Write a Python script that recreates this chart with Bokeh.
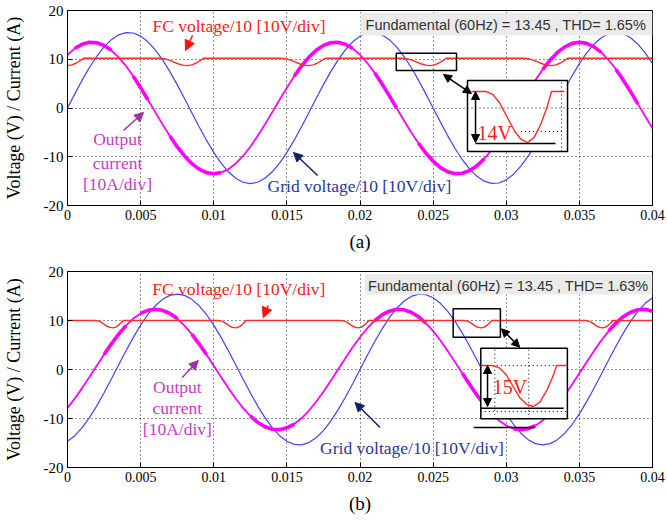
import numpy as np
from bokeh.plotting import figure
from bokeh.models import FixedTicker, Arrow, NormalHead, Label, BoxAnnotation
from bokeh.layouts import column
from bokeh.embed import file_html
from bokeh.resources import INLINE

# ---------------- data ----------------
t_grid = [round(0.0005 * i, 4) for i in range(81)]

grid_a = [0, 2.90, 5.71, 8.31, 10.61, 12.54, 14.02, 15.01, 15.47, 15.38,
          14.74, 13.58, 11.94, 9.88, 7.47, 4.79, 1.94, -0.97, -3.85, -6.60,
          -9.11, -11.30, -13.09, -14.41, -15.23, -15.50, -15.23, -14.41, -13.09, -11.30,
          -9.11, -6.60, -3.85, -0.97, 1.94, 4.79, 7.47, 9.88, 11.94, 13.58,
          14.74, 15.38, 15.47, 15.01, 14.02, 12.54, 10.61, 8.31, 5.71, 2.90,
          0, -2.90, -5.71, -8.31, -10.61, -12.54, -14.02, -15.01, -15.47, -15.38,
          -14.74, -13.58, -11.94, -9.88, -7.47, -4.79, -1.94, 0.97, 3.85, 6.60,
          9.11, 11.30, 13.09, 14.41, 15.23, 15.50, 15.23, 14.41, 13.09, 11.30,
          9.11]

current_a = [10.92, 12.22, 13.08, 13.47, 13.39, 12.84, 11.83, 10.40, 8.61, 6.50,
             4.17, 1.69, -0.85, -3.36, -5.75, -7.94, -9.84, -11.40, -12.55, -13.26,
             -13.50, -13.26, -12.55, -11.40, -9.84, -7.94, -5.75, -3.36, -0.85, 1.69,
             4.17, 6.50, 8.61, 10.40, 11.83, 12.84, 13.39, 13.47, 13.08, 12.22,
             10.92, 9.24, 7.23, 4.97, 2.53, 0, -2.53, -4.97, -7.23, -9.24,
             -10.92, -12.22, -13.08, -13.47, -13.39, -12.84, -11.83, -10.40, -8.61, -6.50,
             -4.17, -1.69, 0.85, 3.36, 5.75, 7.94, 9.84, 11.40, 12.55, 13.26,
             13.50, 13.26, 12.55, 11.40, 9.84, 7.94, 5.75, 3.36, 0.85, -1.69,
             -4.17]

fc_a_t = [0.0, 0.0003, 0.0006, 0.0009, 0.0011,
          0.0063, 0.0066, 0.0069, 0.00725, 0.0076, 0.0079, 0.0082, 0.0085, 0.0088, 0.0091, 0.0093,
          0.0146, 0.0149, 0.0152, 0.01555, 0.0159, 0.0162, 0.0165, 0.0168, 0.0171, 0.0174, 0.0176,
          0.0229, 0.0232, 0.0235, 0.02385, 0.0242, 0.0245, 0.0248, 0.0251, 0.0254, 0.0257, 0.0259,
          0.0312, 0.0315, 0.0318, 0.03215, 0.0325, 0.0328, 0.0331, 0.0334, 0.0337, 0.0340, 0.0342,
          0.04]
fc_a_v = [8.7, 8.85, 9.23, 9.75, 10.2,
          10.2, 10.11, 9.87, 9.45, 9.03, 8.79, 8.7, 8.85, 9.23, 9.75, 10.2,
          10.2, 10.11, 9.87, 9.45, 9.03, 8.79, 8.7, 8.85, 9.23, 9.75, 10.2,
          10.2, 10.11, 9.87, 9.45, 9.03, 8.79, 8.7, 8.85, 9.23, 9.75, 10.2,
          10.2, 10.11, 9.87, 9.45, 9.03, 8.79, 8.7, 8.85, 9.23, 9.75, 10.2,
          10.2]

grid_b = [-14.65, -13.50, -11.87, -9.82, -7.42, -4.76, -1.93, 0.97, 3.83, 6.56,
          9.05, 11.23, 13.00, 14.32, 15.13, 15.40, 15.13, 14.32, 13.00, 11.23,
          9.05, 6.56, 3.83, 0.97, -1.93, -4.76, -7.42, -9.82, -11.87, -13.50,
          -14.65, -15.28, -15.37, -14.92, -13.93, -12.46, -10.54, -8.25, -5.67, -2.89,
          0, 2.89, 5.67, 8.25, 10.54, 12.46, 13.93, 14.92, 15.37, 15.28,
          14.65, 13.50, 11.87, 9.82, 7.42, 4.76, 1.93, -0.97, -3.83, -6.56,
          -9.05, -11.23, -13.00, -14.32, -15.13, -15.40, -15.13, -14.32, -13.00, -11.23,
          -9.05, -6.56, -3.83, -0.97, 1.93, 4.76, 7.42, 9.82, 11.87, 13.50,
          14.65]

current_b = [-7.84, -5.93, -3.80, -1.54, 0.77, 3.06, 5.24, 7.23, 8.97, 10.39,
             11.44, 12.08, 12.30, 12.08, 11.44, 10.39, 8.97, 7.23, 5.24, 3.06,
             0.77, -1.54, -3.80, -5.93, -7.84, -9.48, -10.78, -11.70, -12.20, -12.28,
             -11.91, -11.13, -9.95, -8.42, -6.59, -4.53, -2.30, 0, 2.30, 4.53,
             6.59, 8.42, 9.95, 11.13, 11.91, 12.28, 12.20, 11.70, 10.78, 9.48,
             7.84, 5.93, 3.80, 1.54, -0.77, -3.06, -5.24, -7.23, -8.97, -10.39,
             -11.44, -12.08, -12.30, -12.08, -11.44, -10.39, -8.97, -7.23, -5.24, -3.06,
             -0.77, 1.54, 3.80, 5.93, 7.84, 9.48, 10.78, 11.70, 12.20, 12.28,
             11.91]

fc_b_t = [0.0,
          0.0019, 0.0021, 0.0023, 0.0025, 0.0027, 0.0029, 0.0031, 0.0033, 0.0035, 0.0037, 0.0038,
          0.0103, 0.0105, 0.0107, 0.0109, 0.0111, 0.0113, 0.0115, 0.0117, 0.0119, 0.0121, 0.0122,
          0.0187, 0.0189, 0.0191, 0.0193, 0.0195, 0.0197, 0.0199, 0.0201, 0.0203, 0.0205, 0.0206,
          0.0271, 0.0273, 0.0275, 0.0277, 0.0279, 0.0281, 0.0283, 0.0285, 0.0287, 0.0289, 0.0290,
          0.0354, 0.0356, 0.0358, 0.0360, 0.0362, 0.0364, 0.0366, 0.0368, 0.0370, 0.0372, 0.0373,
          0.04]
fc_b_v = [10.0,
          10.0, 9.91, 9.67, 9.25, 8.83, 8.59, 8.5, 8.65, 9.07, 9.63, 10.0,
          10.0, 9.91, 9.67, 9.25, 8.83, 8.59, 8.5, 8.65, 9.07, 9.63, 10.0,
          10.0, 9.91, 9.67, 9.25, 8.83, 8.59, 8.5, 8.65, 9.07, 9.63, 10.0,
          10.0, 9.91, 9.67, 9.25, 8.83, 8.59, 8.5, 8.65, 9.07, 9.63, 10.0,
          10.0, 9.91, 9.67, 9.25, 8.83, 8.59, 8.5, 8.65, 9.07, 9.63, 10.0,
          10.0]

x_ticks = [0, 0.005, 0.01, 0.015, 0.02, 0.025, 0.03, 0.035, 0.04]
x_tick_labels = ["0", "0.005", "0.01", "0.015", "0.02", "0.025", "0.03", "0.035", "0.04"]
y_ticks = [-20, -10, 0, 10, 20]
y_tick_labels = ["-20", "-10", "0", "10", "20"]

y_label = "Voltage (V) / Current (A)"
panel_labels = ["(a)", "(b)"]
fc_label = "FC voltage/10 [10V/div]"
current_label = ["Output", "current", "[10A/div]"]
grid_label = "Grid voltage/10 [10V/div]"
fund_labels = ["Fundamental (60Hz) = 13.45 , THD= 1.65%",
               "Fundamental (60Hz) = 13.45 , THD= 1.63%"]
ripple_labels = ["14V", "15V"]

# ---------------- styles / layout ----------------
BLUE = "#4242ff"
MAG = "#ff00ff"
RED = "#ff2a2a"
MAG_TXT = "#c83cc8"
BLUE_TXT = "#2838a0"
SERIF = "Liberation Serif"

thick_a = [(0.0005, 0.003), (0.0045, 0.0055), (0.007, 0.0105), (0.0155, 0.0195),
           (0.021, 0.0225), (0.024, 0.0285), (0.0325, 0.0365), (0.0375, 0.039)]
thick_b = [(0.0025, 0.004), (0.005, 0.0075), (0.0085, 0.0095), (0.0125, 0.0155),
           (0.021, 0.0245), (0.027, 0.029), (0.0305, 0.032), (0.037, 0.04)]

cfg_a = dict(
    fc_txt=(0.00581, 16.92), cur_x=0.00342, cur_y=[-6.26, -11.18, -15.49],
    grid_txt=(0.01368, -15.9), fund_txt=(0.02038, 17.0), fund_box=(0.02003, 0.04, 14.87, 19.5),
    arr_red=((0.00855, 14.87), (0.00807, 11.79)),
    arr_mag=((0.00383, -4.62), (0.0052, -0.92)),
    arr_navy=((0.0171, -13.85), (0.01545, -9.13)),
    small=(0.02248, 0.0266, 7.69, 11.24), box=(0.02735, 0.03419, -8.92, 5.64),
    src=(0.0222, 0.0265), dst=(0.02762, 0.03398), lvl=(-7.08, 3.38),
    link=((0.02571, 6.87), (0.02762, 2.97)), varrow_t=0.0279,
    base=(0.0279, 0.03337, -7.28), ripple_txt=(0.02803, -5.23),
    dots_h=[(0.02735, 0.03419, 0.0), (0.031, 0.0339, -4.82)],
    dots_v=[(0.03378, -8.92, 5.64)], extra=None,
)
cfg_b = dict(
    fc_txt=(0.0058, 16.53), cur_x=0.00751, cur_y=[-3.47, -7.76, -12.24],
    grid_txt=(0.01727, -16.12), fund_txt=(0.02055, 16.94), fund_box=(0.02034, 0.04, 15.3, 19.5),
    arr_red=((0.01372, 13.06), (0.01338, 10.61)),
    arr_mag=((0.00785, -1.63), (0.00894, 1.84)),
    arr_navy=((0.02137, -11.84), (0.01966, -6.73)),
    small=(0.02637, 0.0296, 6.59, 12.39), box=(0.02826, 0.03418, -10.06, 4.35),
    src=(0.02677, 0.02932), dst=(0.02831, 0.03418), lvl=(-7.55, 0.82),
    link=((0.02967, 8.31), (0.03092, 4.55)), varrow_t=0.02872,
    base=(0.02826, 0.03392, -7.9), ripple_txt=(0.02908, -3.47),
    dots_h=[(0.02826, 0.03418, 0.82), (0.02826, 0.03418, -8.57)],
    dots_v=[(0.02922, -10.06, 4.35), (0.03154, -10.06, 4.35)],
    extra=(0.02778, 0.03195, -11.84),
)


def inset_curve(ts, vs, src, dst, lvl):
    ts = np.asarray(ts, dtype=float)
    vs = np.asarray(vs, dtype=float)
    inner = (ts > src[0]) & (ts < src[1])
    tt = np.concatenate([[src[0]], ts[inner], [src[1]]])
    vv = np.concatenate([[np.interp(src[0], ts, vs)], vs[inner], [np.interp(src[1], ts, vs)]])
    lo, hi = vs.min(), vs.max()
    x = dst[0] + (tt - src[0]) / (src[1] - src[0]) * (dst[1] - dst[0])
    y = lvl[0] + (vv - lo) / (hi - lo) * (lvl[1] - lvl[0])
    return list(x), list(y)


def arrow(p, seg, color, size=9, both=False, width=1.5):
    (x0, y0), (x1, y1) = seg
    head = lambda: NormalHead(size=size, fill_color=color, line_color=color)
    p.add_layout(Arrow(start=head() if both else None, end=head(),
                       x_start=x0, y_start=y0, x_end=x1, y_end=y1,
                       line_color=color, line_width=width))


def label(p, x, y, text, color, size="17.5px", align="left", font=SERIF):
    p.add_layout(Label(x=x, y=y, text=text, text_color=color, text_font=font,
                       text_font_size=size, text_align=align, text_baseline="middle"))


def panel(idx, height, b_top, b_bottom, gv, cv, ft, fv, thick, cfg):
    p = figure(width=665, height=height, x_range=(0, 0.04), y_range=(-20, 20),
               output_backend="svg", toolbar_location=None,
               min_border_left=67, min_border_right=13,
               min_border_top=b_top, min_border_bottom=b_bottom)
    p.outline_line_color = "black"
    p.outline_line_width = 1
    p.xaxis.ticker = FixedTicker(ticks=x_ticks)
    p.xaxis.major_label_overrides = dict(zip(x_ticks, x_tick_labels))
    p.yaxis.ticker = FixedTicker(ticks=y_ticks)
    p.yaxis.major_label_overrides = dict(zip(y_ticks, y_tick_labels))
    for ax in (p.xaxis, p.yaxis):
        ax.axis_line_color = "black"
        ax.major_tick_in = 5
        ax.major_tick_out = 0
        ax.major_tick_line_color = "black"
        ax.minor_tick_line_color = None
        ax.major_label_text_font = SERIF
        ax.major_label_text_color = "black"
        ax.major_label_standoff = 4
        ax.axis_label_text_font = SERIF
        ax.axis_label_text_font_style = "normal"
        ax.axis_label_text_color = "black"
    p.xaxis.major_label_text_font_size = "14px"
    p.yaxis.major_label_text_font_size = "15px"
    p.yaxis.axis_label = y_label
    p.yaxis.axis_label_text_font_size = "18px"
    p.yaxis.axis_label_standoff = 17
    p.xaxis.axis_label = panel_labels[idx]
    p.xaxis.axis_label_text_font_size = "19px"
    p.xaxis.axis_label_standoff = 8
    p.grid.grid_line_color = "black"
    p.grid.grid_line_dash = "1 3"
    p.grid.grid_line_alpha = 0.85

    # main traces
    p.line(t_grid, gv, color=BLUE, line_width=1.2)
    p.line(t_grid, cv, color=MAG, line_width=1.8)
    xs, ys = [], []
    for a, b in thick:
        seg = [(t, v) for t, v in zip(t_grid, cv) if a - 1e-9 <= t <= b + 1e-9]
        xs.append([s[0] for s in seg])
        ys.append([s[1] for s in seg])
    p.multi_line(xs, ys, color=MAG, line_width=3.6)
    p.line(ft, fv, color=RED, line_width=1.4)

    # zoom window and inset
    l, r, b, t = cfg["small"]
    p.quad(left=l, right=r, bottom=b, top=t, fill_color=None, line_color="black", line_width=1.5)
    l, r, b, t = cfg["box"]
    p.quad(left=l, right=r, bottom=b, top=t, fill_color="white", line_color="black", line_width=1.5)
    for x0, x1, y in cfg["dots_h"]:
        p.segment(x0=x0, y0=y, x1=x1, y1=y, line_color="black", line_dash="1 3", line_width=1)
    for x, y0, y1 in cfg["dots_v"]:
        p.segment(x0=x, y0=y0, x1=x, y1=y1, line_color="black", line_dash="1 3", line_width=1)
    ix, iy = inset_curve(ft, fv, cfg["src"], cfg["dst"], cfg["lvl"])
    p.line(ix, iy, color=RED, line_width=1.4)
    x0, x1, y = cfg["base"]
    p.segment(x0=x0, y0=y, x1=x1, y1=y, line_color="black", line_width=1.5)
    if cfg["extra"] is not None:
        x0, x1, y = cfg["extra"]
        p.segment(x0=x0, y0=y, x1=x1, y1=y, line_color="black", line_width=1.5)
    lo, hi = cfg["lvl"]
    arrow(p, ((cfg["varrow_t"], hi), (cfg["varrow_t"], lo)), "black", size=8, both=True)
    arrow(p, cfg["link"], "black", size=8, both=True)
    label(p, cfg["ripple_txt"][0], cfg["ripple_txt"][1], ripple_labels[idx], "#ff1a1a", size="20px")

    # annotations
    l, r, b, t = cfg["fund_box"]
    p.add_layout(BoxAnnotation(left=l, right=r, bottom=b, top=t, fill_color="#ebebeb",
                               fill_alpha=1, line_color=None))
    label(p, cfg["fund_txt"][0], cfg["fund_txt"][1], fund_labels[idx], "#333333",
          size="14.5px", font="Liberation Sans")
    label(p, cfg["fc_txt"][0], cfg["fc_txt"][1], fc_label, "#ff2020")
    for txt, y in zip(current_label, cfg["cur_y"]):
        label(p, cfg["cur_x"], y, txt, MAG_TXT, align="center")
    label(p, cfg["grid_txt"][0], cfg["grid_txt"][1], grid_label, BLUE_TXT)
    arrow(p, cfg["arr_red"], "#ff1010", size=10)
    arrow(p, cfg["arr_mag"], "#a030a8", size=9)
    arrow(p, cfg["arr_navy"], "#102060", size=9)
    return p


p1 = panel(0, 263, 10, 58, grid_a, current_a, fc_a_t, fc_a_v, thick_a, cfg_a)
p2 = panel(1, 260, 8, 56, grid_b, current_b, fc_b_t, fc_b_v, thick_b, cfg_b)
page = column(p1, p2)

open("out.html", "w").write(file_html(page, INLINE))
